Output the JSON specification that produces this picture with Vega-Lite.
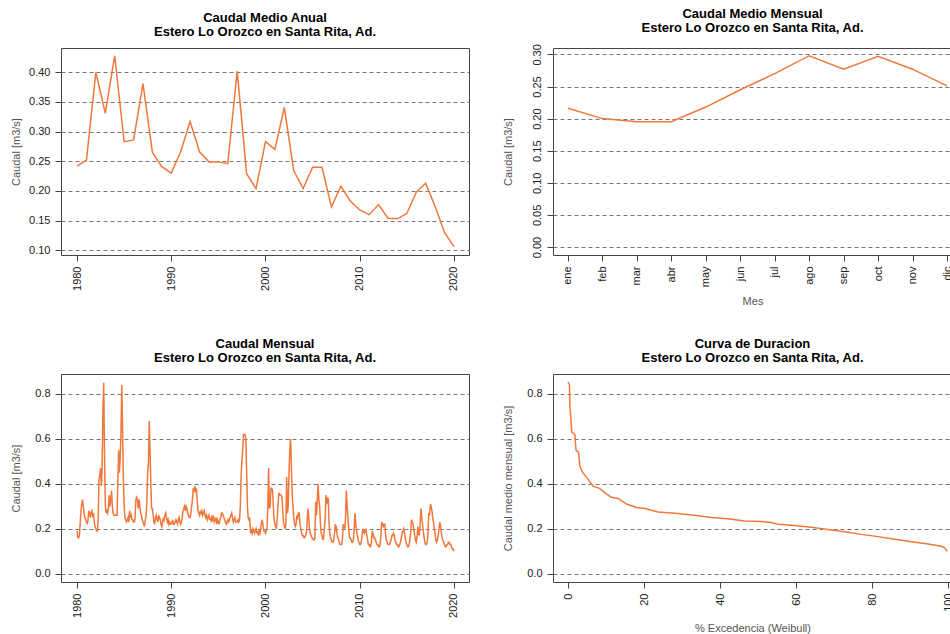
{
"$schema": "https://vega.github.io/schema/vega-lite/v6.json",
"padding": {"left": 9, "top": 7, "right": 0, "bottom": 0},
"background": "white",
"config": {
  "font": "Liberation Sans",
  "view": {"stroke": "#444", "strokeWidth": 1},
  "axis": {"labelFont": "Liberation Sans", "labelFontSize": 11, "labelColor": "#222", "titleFont": "Liberation Sans", "titleFontSize": 11, "titleFontWeight": "normal", "titleColor": "#555", "tickColor": "#444", "tickSize": 6, "labelPadding": 5, "domain": false, "grid": false, "minExtent": 36, "maxExtent": 36, "titlePadding": 4},
  "axisY": {"grid": true, "gridDash": [4, 3], "gridColor": "#777", "gridWidth": 1},
  "title": {"font": "Liberation Sans", "fontSize": 13, "lineHeight": 14, "fontWeight": "bold", "color": "#000", "anchor": "middle", "frame": "group", "offset": 9},
  "line": {"color": "#F0783A", "strokeWidth": 1.5}
},
"datasets": {
  "anual": [
    {"year":1980,"q":0.242},{"year":1981,"q":0.252},{"year":1982,"q":0.400},{"year":1983,"q":0.331},{"year":1984,"q":0.428},
    {"year":1985,"q":0.283},{"year":1986,"q":0.286},{"year":1987,"q":0.381},{"year":1988,"q":0.265},{"year":1989,"q":0.241},
    {"year":1990,"q":0.230},{"year":1991,"q":0.266},{"year":1992,"q":0.317},{"year":1993,"q":0.266},{"year":1994,"q":0.249},
    {"year":1995,"q":0.249},{"year":1996,"q":0.246},{"year":1997,"q":0.402},{"year":1998,"q":0.229},{"year":1999,"q":0.204},
    {"year":2000,"q":0.283},{"year":2001,"q":0.270},{"year":2002,"q":0.341},{"year":2003,"q":0.234},{"year":2004,"q":0.204},
    {"year":2005,"q":0.240},{"year":2006,"q":0.240},{"year":2007,"q":0.173},{"year":2008,"q":0.208},{"year":2009,"q":0.183},
    {"year":2010,"q":0.168},{"year":2011,"q":0.160},{"year":2012,"q":0.177},{"year":2013,"q":0.154},{"year":2014,"q":0.153},
    {"year":2015,"q":0.162},{"year":2016,"q":0.198},{"year":2017,"q":0.213},{"year":2018,"q":0.174},{"year":2019,"q":0.130},
    {"year":2020,"q":0.106}
  ],
  "medio_mensual": [
    {"m":1,"q":0.216},{"m":2,"q":0.200},{"m":3,"q":0.195},{"m":4,"q":0.195},{"m":5,"q":0.218},{"m":6,"q":0.245},
    {"m":7,"q":0.270},{"m":8,"q":0.298},{"m":9,"q":0.277},{"m":10,"q":0.297},{"m":11,"q":0.277},{"m":12,"q":0.251}
  ],
  "mensual": [
    {"d":"1980-01","q":0.19},{"d":"1980-02","q":0.16},{"d":"1980-03","q":0.16},{"d":"1980-04","q":0.17},{"d":"1980-05","q":0.22},{"d":"1980-06","q":0.28},{"d":"1980-07","q":0.31},{"d":"1980-08","q":0.33},{"d":"1980-09","q":0.30},{"d":"1980-10","q":0.27},{"d":"1980-11","q":0.25},{"d":"1980-12","q":0.24},
    {"d":"1981-01","q":0.23},{"d":"1981-02","q":0.22},{"d":"1981-03","q":0.24},{"d":"1981-04","q":0.28},{"d":"1981-05","q":0.27},{"d":"1981-06","q":0.25},{"d":"1981-07","q":0.27},{"d":"1981-08","q":0.28},{"d":"1981-09","q":0.26},{"d":"1981-10","q":0.27},{"d":"1981-11","q":0.23},{"d":"1981-12","q":0.21},
    {"d":"1982-01","q":0.20},{"d":"1982-02","q":0.19},{"d":"1982-03","q":0.19},{"d":"1982-04","q":0.24},{"d":"1982-05","q":0.42},{"d":"1982-06","q":0.44},{"d":"1982-07","q":0.47},{"d":"1982-08","q":0.39},{"d":"1982-09","q":0.47},{"d":"1982-10","q":0.73},{"d":"1982-11","q":0.85},{"d":"1982-12","q":0.55},
    {"d":"1983-01","q":0.31},{"d":"1983-02","q":0.27},{"d":"1983-03","q":0.28},{"d":"1983-04","q":0.27},{"d":"1983-05","q":0.29},{"d":"1983-06","q":0.35},{"d":"1983-07","q":0.30},{"d":"1983-08","q":0.33},{"d":"1983-09","q":0.37},{"d":"1983-10","q":0.30},{"d":"1983-11","q":0.27},{"d":"1983-12","q":0.26},
    {"d":"1984-01","q":0.26},{"d":"1984-02","q":0.26},{"d":"1984-03","q":0.26},{"d":"1984-04","q":0.26},{"d":"1984-05","q":0.40},{"d":"1984-06","q":0.55},{"d":"1984-07","q":0.45},{"d":"1984-08","q":0.52},{"d":"1984-09","q":0.63},{"d":"1984-10","q":0.84},{"d":"1984-11","q":0.64},{"d":"1984-12","q":0.42},
    {"d":"1985-01","q":0.30},{"d":"1985-02","q":0.25},{"d":"1985-03","q":0.24},{"d":"1985-04","q":0.23},{"d":"1985-05","q":0.24},{"d":"1985-06","q":0.25},{"d":"1985-07","q":0.23},{"d":"1985-08","q":0.28},{"d":"1985-09","q":0.25},{"d":"1985-10","q":0.26},{"d":"1985-11","q":0.24},{"d":"1985-12","q":0.24},
    {"d":"1986-01","q":0.23},{"d":"1986-02","q":0.23},{"d":"1986-03","q":0.25},{"d":"1986-04","q":0.33},{"d":"1986-05","q":0.34},{"d":"1986-06","q":0.33},{"d":"1986-07","q":0.29},{"d":"1986-08","q":0.33},{"d":"1986-09","q":0.30},{"d":"1986-10","q":0.27},{"d":"1986-11","q":0.26},{"d":"1986-12","q":0.24},
    {"d":"1987-01","q":0.23},{"d":"1987-02","q":0.22},{"d":"1987-03","q":0.21},{"d":"1987-04","q":0.24},{"d":"1987-05","q":0.26},{"d":"1987-06","q":0.32},{"d":"1987-07","q":0.45},{"d":"1987-08","q":0.49},{"d":"1987-09","q":0.68},{"d":"1987-10","q":0.55},{"d":"1987-11","q":0.40},{"d":"1987-12","q":0.29},
    {"d":"1988-01","q":0.29},{"d":"1988-02","q":0.26},{"d":"1988-03","q":0.23},{"d":"1988-04","q":0.22},{"d":"1988-05","q":0.25},{"d":"1988-06","q":0.26},{"d":"1988-07","q":0.24},{"d":"1988-08","q":0.23},{"d":"1988-09","q":0.26},{"d":"1988-10","q":0.25},{"d":"1988-11","q":0.24},{"d":"1988-12","q":0.22},
    {"d":"1989-01","q":0.21},{"d":"1989-02","q":0.23},{"d":"1989-03","q":0.25},{"d":"1989-04","q":0.24},{"d":"1989-05","q":0.26},{"d":"1989-06","q":0.27},{"d":"1989-07","q":0.25},{"d":"1989-08","q":0.23},{"d":"1989-09","q":0.24},{"d":"1989-10","q":0.22},{"d":"1989-11","q":0.23},{"d":"1989-12","q":0.22},
    {"d":"1990-01","q":0.22},{"d":"1990-02","q":0.23},{"d":"1990-03","q":0.24},{"d":"1990-04","q":0.22},{"d":"1990-05","q":0.22},{"d":"1990-06","q":0.23},{"d":"1990-07","q":0.24},{"d":"1990-08","q":0.23},{"d":"1990-09","q":0.22},{"d":"1990-10","q":0.24},{"d":"1990-11","q":0.25},{"d":"1990-12","q":0.23},
    {"d":"1991-01","q":0.22},{"d":"1991-02","q":0.23},{"d":"1991-03","q":0.25},{"d":"1991-04","q":0.28},{"d":"1991-05","q":0.29},{"d":"1991-06","q":0.30},{"d":"1991-07","q":0.28},{"d":"1991-08","q":0.30},{"d":"1991-09","q":0.29},{"d":"1991-10","q":0.27},{"d":"1991-11","q":0.26},{"d":"1991-12","q":0.25},
    {"d":"1992-01","q":0.25},{"d":"1992-02","q":0.27},{"d":"1992-03","q":0.30},{"d":"1992-04","q":0.33},{"d":"1992-05","q":0.38},{"d":"1992-06","q":0.37},{"d":"1992-07","q":0.39},{"d":"1992-08","q":0.37},{"d":"1992-09","q":0.38},{"d":"1992-10","q":0.33},{"d":"1992-11","q":0.28},{"d":"1992-12","q":0.27},
    {"d":"1993-01","q":0.26},{"d":"1993-02","q":0.28},{"d":"1993-03","q":0.27},{"d":"1993-04","q":0.28},{"d":"1993-05","q":0.26},{"d":"1993-06","q":0.27},{"d":"1993-07","q":0.28},{"d":"1993-08","q":0.26},{"d":"1993-09","q":0.25},{"d":"1993-10","q":0.26},{"d":"1993-11","q":0.24},{"d":"1993-12","q":0.25},
    {"d":"1994-01","q":0.26},{"d":"1994-02","q":0.24},{"d":"1994-03","q":0.25},{"d":"1994-04","q":0.23},{"d":"1994-05","q":0.26},{"d":"1994-06","q":0.24},{"d":"1994-07","q":0.25},{"d":"1994-08","q":0.23},{"d":"1994-09","q":0.24},{"d":"1994-10","q":0.25},{"d":"1994-11","q":0.22},{"d":"1994-12","q":0.24},
    {"d":"1995-01","q":0.23},{"d":"1995-02","q":0.22},{"d":"1995-03","q":0.24},{"d":"1995-04","q":0.25},{"d":"1995-05","q":0.27},{"d":"1995-06","q":0.27},{"d":"1995-07","q":0.26},{"d":"1995-08","q":0.25},{"d":"1995-09","q":0.24},{"d":"1995-10","q":0.23},{"d":"1995-11","q":0.22},{"d":"1995-12","q":0.23},
    {"d":"1996-01","q":0.24},{"d":"1996-02","q":0.23},{"d":"1996-03","q":0.24},{"d":"1996-04","q":0.25},{"d":"1996-05","q":0.26},{"d":"1996-06","q":0.27},{"d":"1996-07","q":0.25},{"d":"1996-08","q":0.23},{"d":"1996-09","q":0.24},{"d":"1996-10","q":0.25},{"d":"1996-11","q":0.23},{"d":"1996-12","q":0.23},
    {"d":"1997-01","q":0.23},{"d":"1997-02","q":0.24},{"d":"1997-03","q":0.23},{"d":"1997-04","q":0.24},{"d":"1997-05","q":0.30},{"d":"1997-06","q":0.44},{"d":"1997-07","q":0.50},{"d":"1997-08","q":0.55},{"d":"1997-09","q":0.62},{"d":"1997-10","q":0.62},{"d":"1997-11","q":0.62},{"d":"1997-12","q":0.60},
    {"d":"1998-01","q":0.45},{"d":"1998-02","q":0.30},{"d":"1998-03","q":0.25},{"d":"1998-04","q":0.24},{"d":"1998-05","q":0.25},{"d":"1998-06","q":0.18},{"d":"1998-07","q":0.19},{"d":"1998-08","q":0.18},{"d":"1998-09","q":0.20},{"d":"1998-10","q":0.19},{"d":"1998-11","q":0.18},{"d":"1998-12","q":0.19},
    {"d":"1999-01","q":0.20},{"d":"1999-02","q":0.18},{"d":"1999-03","q":0.19},{"d":"1999-04","q":0.17},{"d":"1999-05","q":0.19},{"d":"1999-06","q":0.18},{"d":"1999-07","q":0.20},{"d":"1999-08","q":0.23},{"d":"1999-09","q":0.24},{"d":"1999-10","q":0.21},{"d":"1999-11","q":0.19},{"d":"1999-12","q":0.19},
    {"d":"2000-01","q":0.18},{"d":"2000-02","q":0.19},{"d":"2000-03","q":0.20},{"d":"2000-04","q":0.30},{"d":"2000-05","q":0.47},{"d":"2000-06","q":0.29},{"d":"2000-07","q":0.30},{"d":"2000-08","q":0.38},{"d":"2000-09","q":0.38},{"d":"2000-10","q":0.37},{"d":"2000-11","q":0.30},{"d":"2000-12","q":0.24},
    {"d":"2001-01","q":0.22},{"d":"2001-02","q":0.21},{"d":"2001-03","q":0.20},{"d":"2001-04","q":0.25},{"d":"2001-05","q":0.30},{"d":"2001-06","q":0.36},{"d":"2001-07","q":0.35},{"d":"2001-08","q":0.35},{"d":"2001-09","q":0.35},{"d":"2001-10","q":0.34},{"d":"2001-11","q":0.28},{"d":"2001-12","q":0.23},
    {"d":"2002-01","q":0.21},{"d":"2002-02","q":0.20},{"d":"2002-03","q":0.22},{"d":"2002-04","q":0.43},{"d":"2002-05","q":0.27},{"d":"2002-06","q":0.30},{"d":"2002-07","q":0.45},{"d":"2002-08","q":0.55},{"d":"2002-09","q":0.60},{"d":"2002-10","q":0.48},{"d":"2002-11","q":0.35},{"d":"2002-12","q":0.30},
    {"d":"2003-01","q":0.25},{"d":"2003-02","q":0.22},{"d":"2003-03","q":0.21},{"d":"2003-04","q":0.22},{"d":"2003-05","q":0.26},{"d":"2003-06","q":0.25},{"d":"2003-07","q":0.27},{"d":"2003-08","q":0.27},{"d":"2003-09","q":0.22},{"d":"2003-10","q":0.20},{"d":"2003-11","q":0.18},{"d":"2003-12","q":0.17},
    {"d":"2004-01","q":0.17},{"d":"2004-02","q":0.16},{"d":"2004-03","q":0.16},{"d":"2004-04","q":0.17},{"d":"2004-05","q":0.18},{"d":"2004-06","q":0.22},{"d":"2004-07","q":0.29},{"d":"2004-08","q":0.26},{"d":"2004-09","q":0.20},{"d":"2004-10","q":0.18},{"d":"2004-11","q":0.17},{"d":"2004-12","q":0.16},
    {"d":"2005-01","q":0.16},{"d":"2005-02","q":0.15},{"d":"2005-03","q":0.15},{"d":"2005-04","q":0.16},{"d":"2005-05","q":0.32},{"d":"2005-06","q":0.26},{"d":"2005-07","q":0.33},{"d":"2005-08","q":0.40},{"d":"2005-09","q":0.33},{"d":"2005-10","q":0.30},{"d":"2005-11","q":0.22},{"d":"2005-12","q":0.18},
    {"d":"2006-01","q":0.17},{"d":"2006-02","q":0.15},{"d":"2006-03","q":0.16},{"d":"2006-04","q":0.20},{"d":"2006-05","q":0.24},{"d":"2006-06","q":0.35},{"d":"2006-07","q":0.31},{"d":"2006-08","q":0.34},{"d":"2006-09","q":0.33},{"d":"2006-10","q":0.22},{"d":"2006-11","q":0.18},{"d":"2006-12","q":0.16},
    {"d":"2007-01","q":0.15},{"d":"2007-02","q":0.14},{"d":"2007-03","q":0.14},{"d":"2007-04","q":0.15},{"d":"2007-05","q":0.18},{"d":"2007-06","q":0.22},{"d":"2007-07","q":0.21},{"d":"2007-08","q":0.18},{"d":"2007-09","q":0.16},{"d":"2007-10","q":0.15},{"d":"2007-11","q":0.14},{"d":"2007-12","q":0.13},
    {"d":"2008-01","q":0.13},{"d":"2008-02","q":0.13},{"d":"2008-03","q":0.15},{"d":"2008-04","q":0.22},{"d":"2008-05","q":0.21},{"d":"2008-06","q":0.20},{"d":"2008-07","q":0.25},{"d":"2008-08","q":0.37},{"d":"2008-09","q":0.30},{"d":"2008-10","q":0.25},{"d":"2008-11","q":0.20},{"d":"2008-12","q":0.16},
    {"d":"2009-01","q":0.16},{"d":"2009-02","q":0.15},{"d":"2009-03","q":0.14},{"d":"2009-04","q":0.14},{"d":"2009-05","q":0.15},{"d":"2009-06","q":0.20},{"d":"2009-07","q":0.27},{"d":"2009-08","q":0.22},{"d":"2009-09","q":0.19},{"d":"2009-10","q":0.17},{"d":"2009-11","q":0.15},{"d":"2009-12","q":0.14},
    {"d":"2010-01","q":0.13},{"d":"2010-02","q":0.13},{"d":"2010-03","q":0.14},{"d":"2010-04","q":0.17},{"d":"2010-05","q":0.20},{"d":"2010-06","q":0.19},{"d":"2010-07","q":0.18},{"d":"2010-08","q":0.19},{"d":"2010-09","q":0.20},{"d":"2010-10","q":0.17},{"d":"2010-11","q":0.15},{"d":"2010-12","q":0.13},
    {"d":"2011-01","q":0.13},{"d":"2011-02","q":0.12},{"d":"2011-03","q":0.12},{"d":"2011-04","q":0.14},{"d":"2011-05","q":0.19},{"d":"2011-06","q":0.18},{"d":"2011-07","q":0.16},{"d":"2011-08","q":0.16},{"d":"2011-09","q":0.15},{"d":"2011-10","q":0.14},{"d":"2011-11","q":0.13},{"d":"2011-12","q":0.13},
    {"d":"2012-01","q":0.12},{"d":"2012-02","q":0.12},{"d":"2012-03","q":0.13},{"d":"2012-04","q":0.17},{"d":"2012-05","q":0.23},{"d":"2012-06","q":0.22},{"d":"2012-07","q":0.21},{"d":"2012-08","q":0.22},{"d":"2012-09","q":0.22},{"d":"2012-10","q":0.17},{"d":"2012-11","q":0.15},{"d":"2012-12","q":0.14},
    {"d":"2013-01","q":0.13},{"d":"2013-02","q":0.13},{"d":"2013-03","q":0.13},{"d":"2013-04","q":0.14},{"d":"2013-05","q":0.15},{"d":"2013-06","q":0.17},{"d":"2013-07","q":0.17},{"d":"2013-08","q":0.18},{"d":"2013-09","q":0.17},{"d":"2013-10","q":0.15},{"d":"2013-11","q":0.14},{"d":"2013-12","q":0.13},
    {"d":"2014-01","q":0.13},{"d":"2014-02","q":0.12},{"d":"2014-03","q":0.12},{"d":"2014-04","q":0.13},{"d":"2014-05","q":0.14},{"d":"2014-06","q":0.16},{"d":"2014-07","q":0.18},{"d":"2014-08","q":0.19},{"d":"2014-09","q":0.20},{"d":"2014-10","q":0.18},{"d":"2014-11","q":0.16},{"d":"2014-12","q":0.14},
    {"d":"2015-01","q":0.13},{"d":"2015-02","q":0.12},{"d":"2015-03","q":0.12},{"d":"2015-04","q":0.13},{"d":"2015-05","q":0.15},{"d":"2015-06","q":0.19},{"d":"2015-07","q":0.24},{"d":"2015-08","q":0.23},{"d":"2015-09","q":0.22},{"d":"2015-10","q":0.20},{"d":"2015-11","q":0.17},{"d":"2015-12","q":0.15},
    {"d":"2016-01","q":0.14},{"d":"2016-02","q":0.16},{"d":"2016-03","q":0.21},{"d":"2016-04","q":0.18},{"d":"2016-05","q":0.17},{"d":"2016-06","q":0.22},{"d":"2016-07","q":0.29},{"d":"2016-08","q":0.25},{"d":"2016-09","q":0.22},{"d":"2016-10","q":0.19},{"d":"2016-11","q":0.16},{"d":"2016-12","q":0.14},
    {"d":"2017-01","q":0.13},{"d":"2017-02","q":0.13},{"d":"2017-03","q":0.14},{"d":"2017-04","q":0.18},{"d":"2017-05","q":0.27},{"d":"2017-06","q":0.26},{"d":"2017-07","q":0.31},{"d":"2017-08","q":0.30},{"d":"2017-09","q":0.28},{"d":"2017-10","q":0.25},{"d":"2017-11","q":0.23},{"d":"2017-12","q":0.20},
    {"d":"2018-01","q":0.18},{"d":"2018-02","q":0.15},{"d":"2018-03","q":0.14},{"d":"2018-04","q":0.15},{"d":"2018-05","q":0.17},{"d":"2018-06","q":0.20},{"d":"2018-07","q":0.23},{"d":"2018-08","q":0.21},{"d":"2018-09","q":0.18},{"d":"2018-10","q":0.16},{"d":"2018-11","q":0.15},{"d":"2018-12","q":0.14},
    {"d":"2019-01","q":0.13},{"d":"2019-02","q":0.12},{"d":"2019-03","q":0.12},{"d":"2019-04","q":0.13},{"d":"2019-05","q":0.13},{"d":"2019-06","q":0.14},{"d":"2019-07","q":0.14},{"d":"2019-08","q":0.13},{"d":"2019-09","q":0.13},{"d":"2019-10","q":0.12},{"d":"2019-11","q":0.11},{"d":"2019-12","q":0.11},
    {"d":"2020-01","q":0.10}
  ],
  "duracion": [
    {"p":0,"q":0.853},{"p":0.4,"q":0.84},{"p":0.5,"q":0.75},{"p":0.7,"q":0.70},{"p":1.0,"q":0.63},{"p":1.8,"q":0.62},{"p":2.1,"q":0.55},{"p":2.8,"q":0.54},{"p":3.1,"q":0.48},{"p":3.9,"q":0.45},
    {"p":5.3,"q":0.42},{"p":6.6,"q":0.39},{"p":8.3,"q":0.38},{"p":10.1,"q":0.355},{"p":11.4,"q":0.34},{"p":13.2,"q":0.335},{"p":15.4,"q":0.31},{"p":18.0,"q":0.295},{"p":20.2,"q":0.29},{"p":23.7,"q":0.275},
    {"p":28.9,"q":0.268},{"p":33.3,"q":0.26},{"p":37.7,"q":0.25},{"p":42.1,"q":0.245},{"p":46.5,"q":0.235},{"p":50.9,"q":0.232},{"p":53.5,"q":0.228},{"p":55.3,"q":0.22},{"p":59.6,"q":0.215},{"p":64.0,"q":0.207},
    {"p":68.4,"q":0.197},{"p":72.8,"q":0.187},{"p":77.2,"q":0.175},{"p":81.6,"q":0.165},{"p":86.0,"q":0.153},{"p":90.4,"q":0.142},{"p":94.7,"q":0.132},{"p":98.2,"q":0.122},{"p":99.1,"q":0.115},{"p":99.8,"q":0.10}
  ]
},
"spacing": 30,
"vconcat": [
  {
    "spacing": 31,
    "hconcat": [
      {
        "title": {"text": ["Caudal Medio Anual", "Estero Lo Orozco en Santa Rita, Ad."]},
        "width": 408, "height": 207,
        "data": {"name": "anual"},
        "mark": {"type": "line"},
        "encoding": {
          "x": {"field": "year", "type": "quantitative", "title": null, "scale": {"domain": [1978.3, 2021.6], "nice": false, "zero": false},
                "axis": {"values": [1980, 1990, 2000, 2010, 2020], "format": "d", "labelAngle": 270}},
          "y": {"field": "q", "type": "quantitative", "title": "Caudal [m3/s]", "scale": {"domain": [0.092, 0.441], "nice": false, "zero": false},
                "axis": {"values": [0.10, 0.15, 0.20, 0.25, 0.30, 0.35, 0.40], "format": ".2f"}}
        }
      },
      {
        "title": {"text": ["Caudal Medio Mensual", "Estero Lo Orozco en Santa Rita, Ad."]},
        "width": 399, "height": 207,
        "data": {"name": "medio_mensual"},
        "mark": {"type": "line"},
        "encoding": {
          "x": {"field": "m", "type": "quantitative", "title": "Mes", "scale": {"domain": [0.565, 12.145], "nice": false, "zero": false},
                "axis": {"values": [1,2,3,4,5,6,7,8,9,10,11,12], "labelAngle": 270, "labelExpr": "['ene','feb','mar','abr','may','jun','jul','ago','sep','oct','nov','dic'][datum.value-1]"}},
          "y": {"field": "q", "type": "quantitative", "title": "Caudal [m3/s]", "scale": {"domain": [-0.0125, 0.310], "nice": false, "zero": false},
                "axis": {"values": [0, 0.05, 0.10, 0.15, 0.20, 0.25, 0.30], "format": ".2f", "labelAngle": 270}}
        }
      }
    ]
  },
  {
    "spacing": 31,
    "hconcat": [
      {
        "title": {"text": ["Caudal Mensual", "Estero Lo Orozco en Santa Rita, Ad."]},
        "width": 408, "height": 208,
        "data": {"name": "mensual"},
        "mark": {"type": "line"},
        "encoding": {
          "x": {"field": "d", "type": "temporal", "title": null,
                "scale": {"type": "utc", "domain": [{"year": 1978, "month": 4, "date": 20, "utc": true}, {"year": 2021, "month": 8, "date": 7, "utc": true}], "nice": false},
                "axis": {"values": [{"year": 1980, "utc": true}, {"year": 1990, "utc": true}, {"year": 2000, "utc": true}, {"year": 2010, "utc": true}, {"year": 2020, "utc": true}], "format": "%Y", "labelAngle": 270}},
          "y": {"field": "q", "type": "quantitative", "title": "Caudal [m3/s]", "scale": {"domain": [-0.037, 0.889], "nice": false, "zero": false},
                "axis": {"values": [0, 0.2, 0.4, 0.6, 0.8], "format": ".1f"}}
        }
      },
      {
        "title": {"text": ["Curva de Duracion", "Estero Lo Orozco en Santa Rita, Ad."]},
        "width": 399, "height": 208,
        "data": {"name": "duracion"},
        "mark": {"type": "line"},
        "encoding": {
          "x": {"field": "p", "type": "quantitative", "title": "% Excedencia (Weibull)", "scale": {"domain": [-3.95, 101.05], "nice": false, "zero": false},
                "axis": {"values": [0, 20, 40, 60, 80, 100], "format": "d", "labelAngle": 270}},
          "y": {"field": "q", "type": "quantitative", "title": "Caudal medio mensual [m3/s]", "scale": {"domain": [-0.037, 0.889], "nice": false, "zero": false},
                "axis": {"values": [0, 0.2, 0.4, 0.6, 0.8], "format": ".1f"}}
        }
      }
    ]
  }
]
}
